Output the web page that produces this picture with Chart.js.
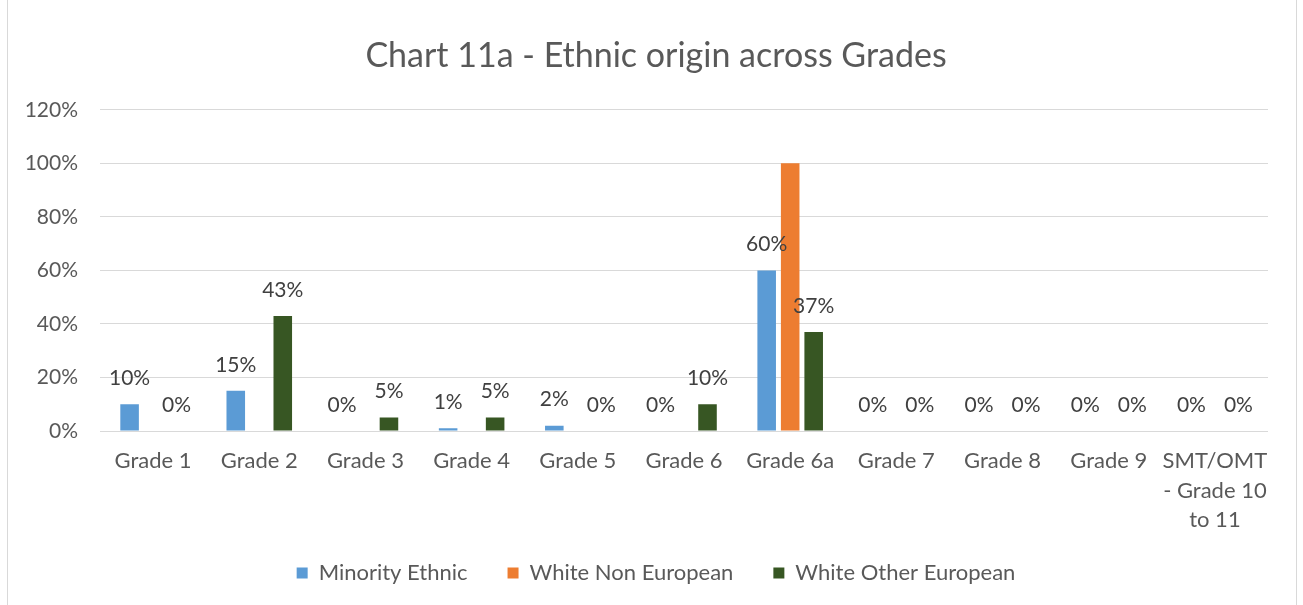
<!DOCTYPE html>
<html>
<head>
<meta charset="utf-8">
<title>Chart 11a - Ethnic origin across Grades</title>
<script src="https://cdn.jsdelivr.net/npm/chart.js@4.4.1/dist/chart.umd.min.js"></script>
<style>
  html, body { margin:0; padding:0; background:#fff; }
  #wrap { position:relative; width:1303px; height:605px; overflow:hidden; }
  #frame { position:absolute; left:7px; top:-2px; width:1290px; height:620px;
           border:1px solid #d9d9d9; box-sizing:border-box; }
  #chartBox { position:absolute; left:0; top:0; width:1303px; height:605px; }
</style>
</head>
<body>
<div id="wrap">
  <div id="frame"></div>
  <div id="chartBox"><canvas id="ethnicChart"></canvas></div>
</div>
<script>
/* -------------------------------------------
   DATA
   ------------------------------------------- */

const grades = [
  "Grade 1","Grade 2","Grade 3","Grade 4","Grade 5","Grade 6",
  "Grade 6a","Grade 7","Grade 8","Grade 9",
  ["SMT/OMT","- Grade 10","to 11"]
];

const minorityEthnic     = [10, 15, 0, 1, 2, 0, 60, 0, 0, 0, 0];
const whiteNonEuropean   = [0, 0, 0, 0, 0, 0, 100, 0, 0, 0, 0];
const whiteOtherEuropean = [0, 43, 5, 5, 0, 10, 37, 0, 0, 0, 0];

const yTicks = [0, 20, 40, 60, 80, 100, 120];

const FONT = "Lato";
const GREY = "#595959";


/* -------------------------------------------
   VALUE LABELS (only on series flagged showLabels)
   ------------------------------------------- */

const valueLabels = {
  id:"valueLabels",
  afterDatasetsDraw(chart){
    const ctx = chart.ctx;
    ctx.save();
    ctx.font = "21px " + FONT;
    ctx.fillStyle = "#404040";
    ctx.textAlign = "center";
    ctx.textBaseline = "middle";
    chart.data.datasets.forEach((ds, i)=>{
      if(!ds.showLabels) return;
      chart.getDatasetMeta(i).data.forEach((bar, j)=>{
        ctx.fillText(ds.data[j] + "%", bar.x, bar.y - 26);
      });
    });
    ctx.restore();
  }
};


/* -------------------------------------------
   CHART
   ------------------------------------------- */

new Chart(document.getElementById("ethnicChart"),{
  type:"bar",
  data:{
    labels:grades,
    datasets:[
      { label:"Minority Ethnic",      data:minorityEthnic,     backgroundColor:"#5B9BD5", showLabels:true },
      { label:"White Non European",   data:whiteNonEuropean,   backgroundColor:"#ED7D31", showLabels:false },
      { label:"White Other European", data:whiteOtherEuropean, backgroundColor:"#375623", showLabels:true }
    ]
  },
  options:{
    responsive:true,
    maintainAspectRatio:false,
    animation:false,
    datasets:{ bar:{ categoryPercentage:0.664, barPercentage:0.79 } },
    layout:{ padding:{ left:9, right:0, top:17, bottom:11 } },
    plugins:{
      title:{
        display:true,
        text:"Chart 11a - Ethnic origin across Grades",
        color:GREY,
        font:{ family:FONT, size:34, weight:"normal" },
        padding:{ top:19, bottom:33 }
      },
      legend:{
        position:"bottom",
        labels:{
          color:GREY,
          font:{ family:FONT, size:22 },
          boxWidth:11,
          boxHeight:11,
          padding:40
        }
      },
      tooltip:{ enabled:false }
    },
    scales:{
      x:{
        grid:{ display:false, drawTicks:false },
        border:{ display:false },
        ticks:{
          color:GREY,
          font:{ family:FONT, size:22, lineHeight:1.35 },
          padding:15,
          maxRotation:0,
          autoSkip:false
        },
        afterFit(scale){
          scale.height = 91;
          // let the 3-line label run past the axis box instead of being clipped
          scale._computeLabelArea = ()=> undefined;
        }
      },
      y:{
        min:0,
        max:120,
        grid:{ color:"#d9d9d9", lineWidth:1, drawTicks:false },
        border:{ display:false },
        afterBuildTicks(scale){ scale.ticks = yTicks.map(v=>({ value:v })); },
        ticks:{
          color:GREY,
          font:{ family:FONT, size:21 },
          padding:22,
          callback:(v)=> v + "%"
        },
        afterFit(scale){ scale.width = 91; }
      },
      // empty right-hand spacer keeping the plot edge at the right place
      yRight:{
        type:"linear",
        position:"right",
        grid:{ display:false, drawTicks:false },
        border:{ display:false },
        ticks:{ display:false },
        afterFit(scale){ scale.width = 35; }
      }
    }
  },
  plugins:[valueLabels]
});
</script>
</body>
</html>
